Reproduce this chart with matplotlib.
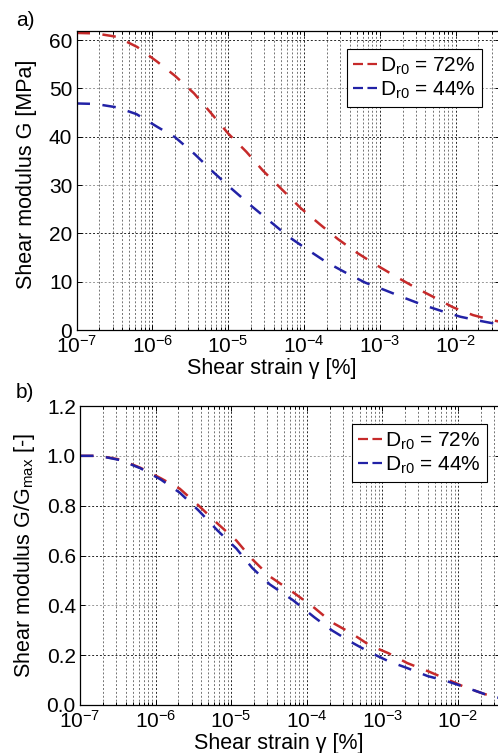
import matplotlib
matplotlib.use("Agg")
import matplotlib.pyplot as plt
from matplotlib.ticker import LogLocator, FixedLocator, FuncFormatter, NullFormatter

plt.rcParams['font.family'] = ['Liberation Sans', 'DejaVu Sans']
plt.rcParams['mathtext.fontset'] = 'custom'
plt.rcParams['mathtext.rm'] = 'Liberation Sans'
plt.rcParams['mathtext.it'] = 'Liberation Sans:italic'
plt.rcParams['mathtext.bf'] = 'Liberation Sans:bold'
plt.rcParams['mathtext.default'] = 'regular'

# ---------------- data ----------------
labels = ["D$_{\\mathrm{r0}}$ = 72%", "D$_{\\mathrm{r0}}$ = 44%"]
colors = ["#c62a2a", "#2222a6"]

# panel a: shear modulus G [MPa]
gamma_a72 = [1.0e-7, 1.78e-7, 3.39e-7, 6.31e-7, 1.17e-6, 2.0e-6, 3.55e-6, 6.03e-6,
             1.0e-5, 1.74e-5, 2.88e-5, 5.13e-5, 9.12e-5, 1.62e-4, 2.82e-4, 5.01e-4,
             8.71e-4, 1.66e-3, 3.02e-3, 5.25e-3, 9.33e-3, 1.70e-2, 3.02e-2, 3.89e-2]
G_a72 = [61.5, 61.4, 60.7, 58.6, 55.5, 52.6, 49.0, 44.8,
         40.7, 36.9, 33.0, 29.1, 25.2, 21.9, 18.8, 16.0,
         13.6, 11.0, 8.7, 6.75, 4.68, 3.09, 2.05, 1.7]

gamma_a44 = [1.0e-7, 1.78e-7, 3.39e-7, 6.17e-7, 1.15e-6, 2.0e-6, 3.63e-6, 6.31e-6,
             1.12e-5, 2.04e-5, 3.63e-5, 6.31e-5, 1.10e-4, 2.0e-4, 3.63e-4, 6.46e-4,
             1.17e-3, 2.04e-3, 3.55e-3, 6.61e-3, 1.17e-2, 2.09e-2, 3.89e-2]
G_a44 = [46.9, 46.8, 46.1, 44.7, 42.1, 39.9, 36.4, 32.75,
         29.2, 25.65, 22.4, 19.3, 16.7, 14.0, 11.8, 9.8,
         8.26, 6.75, 5.30, 3.91, 2.73, 1.9, 1.1]

# panel b: normalised shear modulus G/Gmax [-]
gamma_b = [1.0e-7, 1.78e-7, 3.39e-7, 6.31e-7, 1.17e-6, 2.09e-6, 3.72e-6, 6.61e-6,
           1.17e-5, 1.9e-5, 3.24e-5, 6.61e-5, 1.26e-4, 2.14e-4, 3.89e-4, 6.76e-4,
           1.20e-3, 2.14e-3, 3.98e-3, 7.08e-3, 1.23e-2, 2.24e-2, 3.89e-2]
R_b72 = [1.0, 1.0, 0.985, 0.952, 0.91, 0.868, 0.80, 0.728,
         0.66, 0.585, 0.516, 0.452, 0.39, 0.332, 0.288, 0.24,
         0.208, 0.168, 0.136, 0.104, 0.072, 0.044, 0.025]
R_b44 = [1.0, 1.0, 0.983, 0.95, 0.905, 0.852, 0.78, 0.70,
         0.628, 0.55, 0.484, 0.42, 0.352, 0.30, 0.252, 0.212,
         0.176, 0.148, 0.116, 0.096, 0.072, 0.044, 0.025]

yticks_a = [0, 10, 20, 30, 40, 50, 60]
yticks_b = [0.0, 0.2, 0.4, 0.6, 0.8, 1.0, 1.2]
dark_a = [0, 20, 40, 60]
dark_b = [0.0, 0.2, 0.6, 0.8, 1.2]

# ---------------- figure ----------------
W, H = 498, 753
fig = plt.figure(figsize=(W / 100, H / 100), dpi=100)


def px_axes(left, top, right, bottom):
    return fig.add_axes([left / W, 1 - bottom / H, (right - left) / W, (bottom - top) / H])


axa = px_axes(76.5, 31, 500, 330)
axb = px_axes(80, 406, 500, 705)

FS = 15
dotted = (0, (2, 2))


def style(ax, yticks, yfmt):
    ax.set_xscale('log')
    ax.xaxis.set_major_locator(LogLocator(base=10, numticks=20))
    ax.xaxis.set_minor_locator(LogLocator(base=10, subs=range(2, 10), numticks=20))
    ax.xaxis.set_minor_formatter(NullFormatter())
    ax.yaxis.set_major_locator(FixedLocator(yticks))
    ax.yaxis.set_major_formatter(FuncFormatter(yfmt))
    ax.tick_params(which='both', direction='in', top=True, right=True, width=0.7,
                   labelsize=FS, colors='black')
    ax.tick_params(which='major', length=3.6, pad=3)
    ax.tick_params(which='minor', length=2.2)
    ax.tick_params(axis='x', which='major', pad=3.8)
    for s in ax.spines.values():
        s.set_linewidth(0.9)
    ax.grid(True, which='major', axis='x', color='0.15', linestyle=dotted, linewidth=0.7)
    ax.grid(True, which='minor', axis='x', color='0.45', linestyle=dotted, linewidth=0.7)
    ax.grid(True, which='major', axis='y', color='0.15', linestyle=dotted, linewidth=0.7)
    ax.set_axisbelow(True)


style(axa, yticks_a, lambda v, p: f"{v:.0f}")
style(axb, yticks_b, lambda v, p: f"{v:.1f}")

dash = (5.4, 5.0)
axa.plot(gamma_a72, G_a72, color=colors[0], lw=1.8, dashes=dash, label=labels[0])
axa.plot(gamma_a44, G_a44, color=colors[1], lw=1.8, dashes=dash, label=labels[1])
axb.plot(gamma_b, R_b72, color=colors[0], lw=1.8, dashes=dash, label=labels[0])
axb.plot(gamma_b, R_b44, color=colors[1], lw=1.8, dashes=dash, label=labels[1])

axa.set_xlim(1e-7, 10 ** (-1.413))
axa.set_ylim(0, 61.9)
axb.set_xlim(1e-7, 10 ** (-1.444))
axb.set_ylim(0, 1.2)

# alternate grid tone (as in the reference raster)
fig.canvas.draw()
for ax, darkset in ((axa, dark_a), (axb, dark_b)):
    for t, gl in zip(ax.get_yticks(), ax.get_ygridlines()):
        if not any(abs(t - d) < 1e-9 for d in darkset):
            gl.set_color('0.6')

axa.set_xlabel("Shear strain γ [%]", fontsize=15.5)
axb.set_xlabel("Shear strain γ [%]", fontsize=15.5)
axa.set_ylabel("Shear modulus G [MPa]", fontsize=15.5)
axb.set_ylabel("Shear modulus G/G$_{\\mathrm{max}}$ [-]", fontsize=15.5)
axa.xaxis.set_label_coords(0.4616, -0.0936)
axb.xaxis.set_label_coords(0.4726, -0.0950)
axa.yaxis.set_label_coords(-0.0923, 0.5217)
axb.yaxis.set_label_coords(-0.1014, 0.4990)

for ax, anchor in ((axa, ((482 - 76.5) / 423.5, (330 - 49) / 299)),
                   (axb, ((487 - 80) / 420, (705 - 424) / 299))):
    leg = ax.legend(loc='upper right', bbox_to_anchor=anchor, borderaxespad=0,
                    handlelength=1.15, handletextpad=0.15, borderpad=0.3,
                    labelspacing=0.15, fancybox=False, framealpha=1,
                    edgecolor='black', fontsize=15)
    leg.get_frame().set_linewidth(0.8)
    for ln in leg.get_lines():
        ln.set_dashes((4.5, 2.0))
        ln.set_linewidth(1.6)

fig.text(25 / W, 1 - 20 / H, "a)", fontsize=15, ha='center', va='center')
fig.text(25 / W, 1 - 392 / H, "b)", fontsize=15, ha='center', va='center')

fig.savefig("out.png", dpi=100)
